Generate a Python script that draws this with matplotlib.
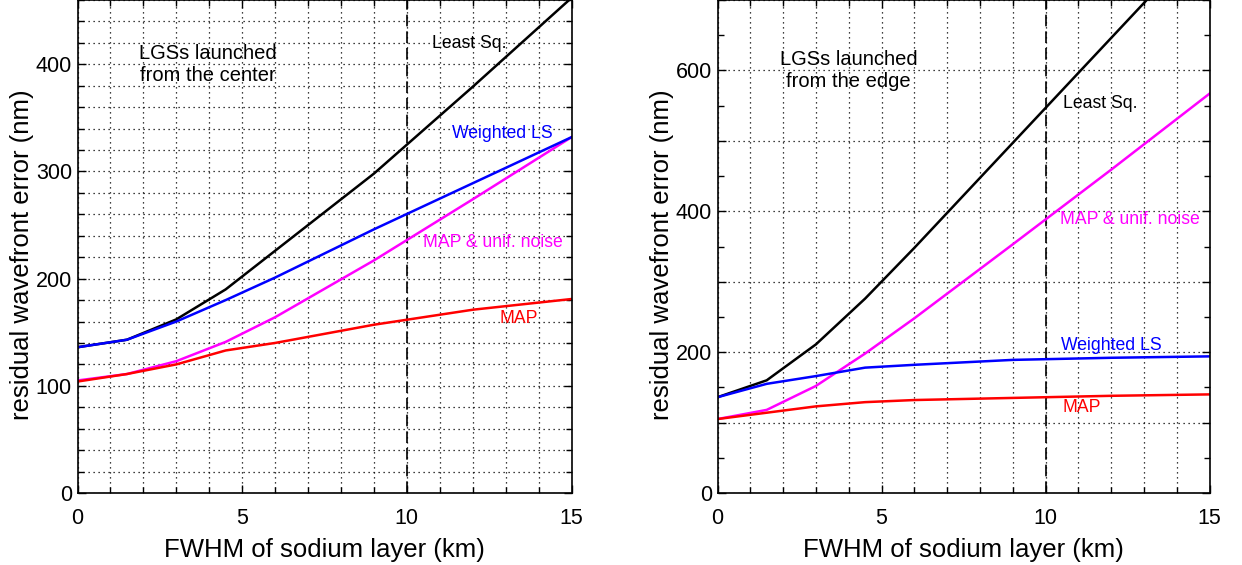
import matplotlib
matplotlib.use("Agg")
import matplotlib.pyplot as plt
from matplotlib.ticker import MultipleLocator, FuncFormatter

plt.rcParams['font.family'] = ['Liberation Sans', 'DejaVu Sans']

fwhm = [0, 1.5, 3, 4.5, 6, 9, 12, 15]

# Left panel: LGSs launched from the center
center_ls = [136, 143, 162, 190, 226, 298, 379, 462]
center_wls = [136, 143, 160, 180, 201, 246, 289, 332]
center_map_unif = [105, 111, 123, 141, 164, 217, 274, 332]
center_map = [104, 111, 120, 133, 140, 157, 171, 181]

# Right panel: LGSs launched from the edge
edge_ls = [136, 160, 211, 276, 348, 497, 646, 795]
edge_wls = [136, 155, 166, 178, 182, 189, 192, 194]
edge_map_unif = [105, 118, 152, 198, 248, 353, 459, 567]
edge_map = [105, 114, 123, 129, 132, 135, 138, 140]

fig = plt.figure(figsize=(12.42, 5.65), dpi=100)
axL = fig.add_axes([77.5/1242, 72/565, 494/1242, 493/565])
axR = fig.add_axes([717.5/1242, 72/565, 492/1242, 493/565])

lw = 1.8
grid_kw = dict(color='black', linestyle=(0, (1, 3)), linewidth=0.9)


def style(ax, ymax, ymaj, ymin, label_step, minor_grid):
    ax.set_xlim(0, 15)
    ax.set_ylim(0, ymax)
    ax.xaxis.set_major_locator(MultipleLocator(5))
    ax.xaxis.set_minor_locator(MultipleLocator(1))
    ax.yaxis.set_major_locator(MultipleLocator(ymaj))
    ax.yaxis.set_minor_locator(MultipleLocator(ymin))
    ax.yaxis.set_major_formatter(FuncFormatter(
        lambda v, p: f"{int(round(v))}" if round(v) % label_step == 0 else ""))
    ax.tick_params(which='both', direction='in', top=True, right=True,
                   labelsize=15.5, colors='black')
    ax.tick_params(which='major', length=6, width=1)
    ax.tick_params(which='minor', length=4, width=1)
    ax.tick_params(axis='x', which='major', pad=11)
    ax.tick_params(axis='y', which='major', pad=4)
    ax.grid(True, which='major', **grid_kw)
    ax.xaxis.grid(True, which='minor', **grid_kw)
    if minor_grid:
        ax.yaxis.grid(True, which='minor', **grid_kw)
    ax.set_axisbelow(True)
    for s in ax.spines.values():
        s.set_linewidth(1.2)
    ax.axvline(10, color='black', linestyle=(0, (7, 3)), linewidth=1.2)
    ax.set_xlabel('FWHM of sodium layer (km)', fontsize=18.5, labelpad=6)
    ax.set_ylabel('residual wavefront error (nm)', fontsize=18.5,
                  va='center', ha='center')
    ax.yaxis.set_label_coords(-0.112, 0.483)


style(axL, 460, 100, 20, 100, True)
style(axR, 700, 100, 50, 200, False)

for ax, ls, wls, mu, mp in [(axL, center_ls, center_wls, center_map_unif, center_map),
                            (axR, edge_ls, edge_wls, edge_map_unif, edge_map)]:
    ax.plot(fwhm, ls, color='black', lw=lw)
    ax.plot(fwhm, mu, color='#ff00ff', lw=lw)
    ax.plot(fwhm, wls, color='#0000ff', lw=lw)
    ax.plot(fwhm, mp, color='#ff0000', lw=lw)

tk = dict(ha='center', va='center', fontsize=12.7)
axL.text(3.95, 400, 'LGSs launched\nfrom the center', ha='center', va='center',
         fontsize=14.5, linespacing=1.2)
axL.text(11.9, 419, 'Least Sq.', color='black', **tk)
axL.text(12.9, 335, 'Weighted LS', color='#0000ff', **tk)
axL.text(12.6, 234, 'MAP & unif. noise', color='#ff00ff', **tk)
axL.text(13.4, 163, 'MAP', color='#ff0000', **tk)

axR.text(4.0, 600, 'LGSs launched\nfrom the edge', ha='center', va='center',
         fontsize=14.5, linespacing=1.2)
axR.text(11.66, 553, 'Least Sq.', color='black', **tk)
axR.text(12.58, 388, 'MAP & unif. noise', color='#ff00ff', **tk)
axR.text(12.0, 210, 'Weighted LS', color='#0000ff', **tk)
axR.text(11.1, 121, 'MAP', color='#ff0000', **tk)

fig.savefig('out.png', dpi=100)
